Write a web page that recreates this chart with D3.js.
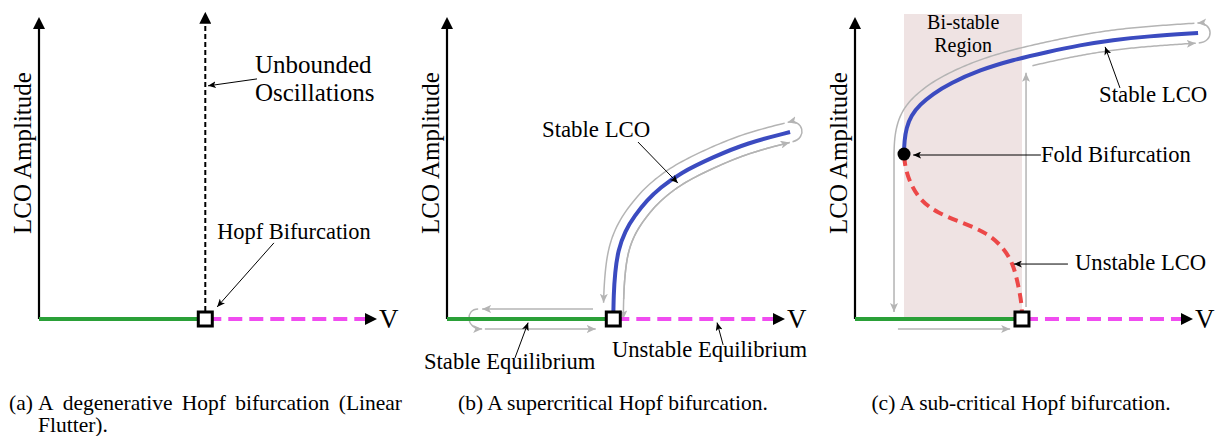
<!DOCTYPE html>
<html>
<head>
<meta charset="utf-8">
<script src="https://cdn.jsdelivr.net/npm/d3@7"></script>
<style>
  body { margin: 0; background: #fff; }
  text { font-family: "Liberation Serif", "Times New Roman", serif; fill: #000; }
</style>
</head>
<body>
<svg id="chart" width="1215" height="436"></svg>
<script>
// ---- data (V = airspeed, A = LCO amplitude, both in 0..10 units) ----
const panelIds = ["a", "b", "c"];
const hopfV = [4.92, 4.92, 4.94];
const vMax = 10, aMax = 10;

// (a) linear flutter: amplitude runs away at the Hopf point
const unboundedTopA = 10.17;

// (b) supercritical: stable LCO branch
const lcoB_V = [4.92, 4.93, 4.97, 5.06, 5.27, 5.55, 5.92, 6.30, 6.89, 7.87, 8.88, 10.15];
const lcoB_A = [0, 0.80, 1.52, 2.28, 2.92, 3.42, 3.94, 4.34, 4.83, 5.36, 5.83, 6.19];

// (c) subcritical: unstable and stable LCO branches
const unstC_V = [4.94, 4.94, 4.82, 4.67, 4.38, 3.91, 3.20, 2.43, 1.92, 1.63, 1.48, 1.45];
const unstC_A = [0, 0.46, 1.19, 1.85, 2.38, 2.85, 3.18, 3.51, 3.94, 4.50, 5.03, 5.46];
const lcoC_V = [1.45, 1.46, 1.52, 1.66, 1.92, 2.30, 2.80, 3.70, 4.67, 5.68, 6.66, 7.63, 8.64, 10.15];
const lcoC_A = [5.46, 5.90, 6.33, 6.74, 7.10, 7.45, 7.80, 8.25, 8.58, 8.84, 9.07, 9.24, 9.36, 9.47];
const foldPoint = [1.45, 5.46];
const bistableV = [1.45, 4.94];
const bistableTopA = 10.1;

// gray "path followed" arrows
const flowB_eqUpper = [4.32, 1.04];   // above the axis, going left
const flowB_eqLower = [1.12, 4.40];   // below the axis, going right
const flowC_eqLower = [1.27, 4.59];
const flowC_jumpV = 5.06;
const flowC_jumpA = [0.40, 8.15];
const flowC_dropA = 0.23;
const flowC_lowerFromV = 5.18;

// text
const yLabel = "LCO Amplitude";
const xLabel = "V";
const captionLabels = ["(a)", "(b)", "(c)"];
const captionTexts = [
  "A degenerative Hopf bifurcation (Linear Flutter).",
  "A supercritical Hopf bifurcation.",
  "A sub-critical Hopf bifurcation."
];
// annotations: panel, text lines, label anchor (V,A), pointer from -> to
const notes = [
  {p: 0, lines: ["Unbounded", "Oscillations"], at: [6.39, 8.15], size: 25, gap: 28, from: [6.45, 7.95], to: [5.0, 7.72]},
  {p: 0, lines: ["Hopf Bifurcation"], at: [5.27, 2.65], size: 22.4, from: [6.95, 2.52], to: [5.27, 0.40]},
  {p: 1, lines: ["Stable LCO"], at: [2.81, 6.03], size: 22.8, from: [5.65, 5.86], to: [6.83, 4.50]},
  {p: 1, lines: ["Stable Equilibrium"], at: [-0.68, -1.66], size: 22.6, from: [2.01, -1.29], to: [2.40, -0.12]},
  {p: 1, lines: ["Unstable Equilibrium"], at: [4.88, -1.26], size: 22.6, from: [8.17, -0.86], to: [7.99, -0.12]},
  {p: 2, lines: ["Bi-stable", "Region"], at: [3.20, 9.60], size: 20, gap: 23, anchor: "middle"},
  {p: 2, lines: ["Stable LCO"], at: [7.22, 7.19], size: 22.8, from: [7.84, 7.65], to: [7.40, 9.01]},
  {p: 2, lines: ["Fold Bifurcation"], at: [5.50, 5.20], size: 22.6, from: [5.50, 5.43], to: [1.72, 5.43]},
  {p: 2, lines: ["Unstable LCO"], at: [6.51, 1.62], size: 22.6, from: [6.30, 1.82], to: [4.70, 1.82]}
];

// ---- layout ----
const panelX0 = [39, 447, 855];
const plotW = 338, axisY = 319, plotTop = 17;
const green = "#2aa038", magenta = "#f04cf0", blue = "#3b4bc0", red = "#ec4848", gray = "#b4b4b4";

const svg = d3.select("#chart");
const defs = svg.append("defs");

function marker(id, d, w, h, refX, color) {
  defs.append("marker")
      .attr("id", id)
      .attr("viewBox", `0 0 ${w} ${h}`)
      .attr("refX", refX).attr("refY", h / 2)
      .attr("markerWidth", w).attr("markerHeight", h)
      .attr("markerUnits", "userSpaceOnUse")
      .attr("orient", "auto")
    .append("path").attr("d", d).attr("fill", color);
}
marker("axisHead", "M0,0L12,6L0,12Z", 12, 12, 0, "#000");
marker("pointer", "M0,0L8,3.5L0,7L2,3.5Z", 8, 7, 8, "#000");
marker("flowHead", "M0,0L9,4L0,8L2.2,4Z", 9, 8, 9, gray);

const scales = panelIds.map((id, i) => ({
  x: d3.scaleLinear().domain([0, vMax]).range([panelX0[i], panelX0[i] + plotW]),
  y: d3.scaleLinear().domain([0, aMax]).range([axisY, plotTop])
}));

const layers = panelIds.map(id => {
  const g = svg.append("g").attr("class", "panel-" + id);
  return {back: g.append("g"), flow: g.append("g"), main: g.append("g"), top: g.append("g")};
});

function zip(vs, as) { return vs.map((v, k) => [v, as[k]]); }

// sample a drawn path and shift it sideways (d > 0: left of travel direction)
function sampleOffset(node, s0, s1, d, n) {
  const L = node.getTotalLength(), pts = [];
  for (let k = 0; k <= n; k++) {
    const s = s0 + (s1 - s0) * k / n;
    const a = node.getPointAtLength(Math.max(0, s - 1));
    const b = node.getPointAtLength(Math.min(L, s + 1));
    const p = node.getPointAtLength(s);
    const tx = b.x - a.x, ty = b.y - a.y, len = Math.hypot(tx, ty);
    pts.push([p.x + d * ty / len, p.y - d * tx / len]);
  }
  return pts;
}
function endLoop(node, r) {
  const L = node.getTotalLength();
  const p = node.getPointAtLength(L), q = node.getPointAtLength(L - 2);
  let tx = p.x - q.x, ty = p.y - q.y;
  const len = Math.hypot(tx, ty); tx /= len; ty /= len;
  const nx = ty, ny = -tx;
  const lo = [p.x - r * nx, p.y - r * ny], up = [p.x + r * nx, p.y + r * ny];
  const c = 16;
  return `M${lo}C${lo[0] + c * tx},${lo[1] + c * ty} ${up[0] + c * tx},${up[1] + c * ty} ${up}`;
}
function flow(layer, d) {
  return layer.append("path").attr("d", d).attr("fill", "none")
    .attr("stroke", gray).attr("stroke-width", 1.5).attr("marker-end", "url(#flowHead)");
}

const px = d3.line();

panelIds.forEach((id, i) => {
  const {x, y} = scales[i], L = layers[i];
  const line = d3.line().x(d => x(d[0])).y(d => y(d[1]));

  // y axis with arrow
  const yEnd = y.invert(y(aMax) + 12);
  L.main.append("path").datum([[0, 0], [0, yEnd]]).attr("d", line)
      .attr("stroke", "#000").attr("stroke-width", 2.2).attr("fill", "none")
      .attr("marker-end", "url(#axisHead)");

  // equilibrium branch: stable (green) then unstable (magenta, ends in the V arrow)
  L.main.append("path").datum([[0, 0], [hopfV[i], 0]]).attr("d", line)
      .attr("stroke", green).attr("stroke-width", 4).attr("fill", "none");
  L.main.append("path").datum([[hopfV[i], 0], [x.invert(x(vMax) - 12), 0]]).attr("d", line)
      .attr("stroke", magenta).attr("stroke-width", 4).attr("fill", "none")
      .attr("stroke-dasharray", "14,7").attr("stroke-dashoffset", -2)
      .attr("marker-end", "url(#axisHead)");

  // axis labels
  L.top.append("text").attr("x", x(vMax) + 2).attr("y", y(0)).attr("dy", "0.34em")
      .attr("font-size", 27).text(xLabel);
  L.top.append("text")
      .attr("transform", `translate(${x(0) - 8},${(y(0) + y(aMax)) / 2 - 15}) rotate(-90)`)
      .attr("text-anchor", "middle").attr("font-size", 25).text(yLabel);
});

// ---- panel (a) ----
{
  const {x, y} = scales[0], L = layers[0];
  const line = d3.line().x(d => x(d[0])).y(d => y(d[1]));
  L.main.append("path").datum([[hopfV[0], 0], [hopfV[0], y.invert(y(unboundedTopA) + 12)]])
      .attr("d", line).attr("stroke", "#000").attr("stroke-width", 2).attr("fill", "none")
      .attr("stroke-dasharray", "5,3").attr("marker-end", "url(#axisHead)");
}

// ---- panel (b) ----
{
  const {x, y} = scales[1], L = layers[1];
  const line = d3.line().x(d => x(d[0])).y(d => y(d[1])).curve(d3.curveBasis);
  const lco = L.main.append("path").datum(zip(lcoB_V, lcoB_A)).attr("d", line)
      .attr("stroke", blue).attr("stroke-width", 4).attr("fill", "none");
  const node = lco.node(), len = node.getTotalLength();
  flow(L.flow, px(sampleOffset(node, len - 3, 0, -10, 80)));
  flow(L.flow, endLoop(node, 10));
  flow(L.flow, px(sampleOffset(node, len - 3, 16, 10, 80)));
  flow(L.flow, px(sampleOffset(node, 20, len - 3, -10, 80)));
  // along the stable equilibrium
  const yu = y(0) - 10, yl = y(0) + 10;
  flow(L.flow, px([[x(flowB_eqUpper[0]), yu], [x(flowB_eqUpper[1]), yu]]));
  const lx = x(flowB_eqUpper[1]) - 4;
  flow(L.flow, `M${lx},${yu}C${lx - 13},${yu} ${lx - 13},${yl} ${lx + 4},${yl}`);
  flow(L.flow, px([[x(flowB_eqLower[0]), yl], [x(flowB_eqLower[1]), yl]]));
}

// ---- panel (c) ----
{
  const {x, y} = scales[2], L = layers[2];
  const line = d3.line().x(d => x(d[0])).y(d => y(d[1])).curve(d3.curveBasis);
  L.back.append("rect")
      .attr("x", x(bistableV[0])).attr("width", x(bistableV[1]) - x(bistableV[0]))
      .attr("y", y(bistableTopA)).attr("height", y(0) - y(bistableTopA))
      .attr("fill", "#efe3e3");
  L.main.append("path").datum(zip(unstC_V, unstC_A)).attr("d", line)
      .attr("stroke", red).attr("stroke-width", 4).attr("fill", "none")
      .attr("stroke-dasharray", "10,6");
  const lco = L.main.append("path").datum(zip(lcoC_V, lcoC_A)).attr("d", line)
      .attr("stroke", blue).attr("stroke-width", 4).attr("fill", "none");
  const node = lco.node(), len = node.getTotalLength();
  // outer track: back along the stable LCO and drop to the equilibrium
  const outer = sampleOffset(node, len - 3, 0, 10, 120);
  outer.push([outer[outer.length - 1][0], y(flowC_dropA)]);
  flow(L.flow, px(outer));
  flow(L.flow, endLoop(node, 10));
  // inner track: from the jump up to the end
  let s0 = 0;
  while (s0 < len && node.getPointAtLength(s0).x < x(flowC_lowerFromV)) s0 += 1;
  flow(L.flow, px(sampleOffset(node, s0, len - 3, -10, 80)));
  flow(L.flow, px([[x(flowC_jumpV), y(flowC_jumpA[0])], [x(flowC_jumpV), y(flowC_jumpA[1])]]));
  flow(L.flow, px([[x(flowC_eqLower[0]), y(0) + 10], [x(flowC_eqLower[1]), y(0) + 10]]));
  L.top.append("circle").attr("cx", x(foldPoint[0])).attr("cy", y(foldPoint[1]))
      .attr("r", 6.5).attr("fill", "#000");
}

// Hopf points
panelIds.forEach((id, i) => {
  const {x, y} = scales[i];
  layers[i].top.append("rect")
      .attr("x", x(hopfV[i]) - 7).attr("y", y(0) - 7).attr("width", 14).attr("height", 14)
      .attr("fill", "#fff").attr("stroke", "#000").attr("stroke-width", 3);
});

// annotations
notes.forEach(n => {
  const {x, y} = scales[n.p], L = layers[n.p];
  const t = L.top.append("text")
      .attr("x", x(n.at[0])).attr("y", y(n.at[1]))
      .attr("font-size", n.size).attr("text-anchor", n.anchor || "start");
  n.lines.forEach((s, k) => {
    t.append("tspan").attr("x", x(n.at[0])).attr("dy", k ? n.gap : 0).text(s);
  });
  if (n.from) {
    L.top.append("line")
        .attr("x1", x(n.from[0])).attr("y1", y(n.from[1]))
        .attr("x2", x(n.to[0])).attr("y2", y(n.to[1]))
        .attr("stroke", "#000").attr("stroke-width", 1).attr("marker-end", "url(#pointer)");
  }
});

// captions
const capY = 410, capSize = 21.5;
panelIds.forEach((id, i) => {
  const x0 = panelX0[i];
  if (i > 0) {
    svg.append("text").attr("x", x0 + 166).attr("y", capY).attr("text-anchor", "middle")
        .attr("font-size", capSize).text(captionLabels[i] + " " + captionTexts[i]);
    return;
  }
  // (a) is a two-line justified caption with hanging indent
  const left = x0 - 30, indent = x0 - 1, right = x0 + 363;
  svg.append("text").attr("x", left).attr("y", capY).attr("font-size", capSize).text(captionLabels[i]);
  const words = captionTexts[i].split(" ");
  const first = words.slice(0, -1), rest = words.slice(-1);
  const ws = first.map(w => svg.append("text").attr("y", capY).attr("font-size", capSize).text(w));
  const widths = ws.map(t => t.node().getComputedTextLength());
  const gap = (right - indent - d3.sum(widths)) / (first.length - 1);
  let cx = indent;
  ws.forEach((t, k) => { t.attr("x", cx); cx += widths[k] + gap; });
  svg.append("text").attr("x", indent).attr("y", capY + 22).attr("font-size", capSize).text(rest.join(" "));
});
</script>
</body>
</html>
